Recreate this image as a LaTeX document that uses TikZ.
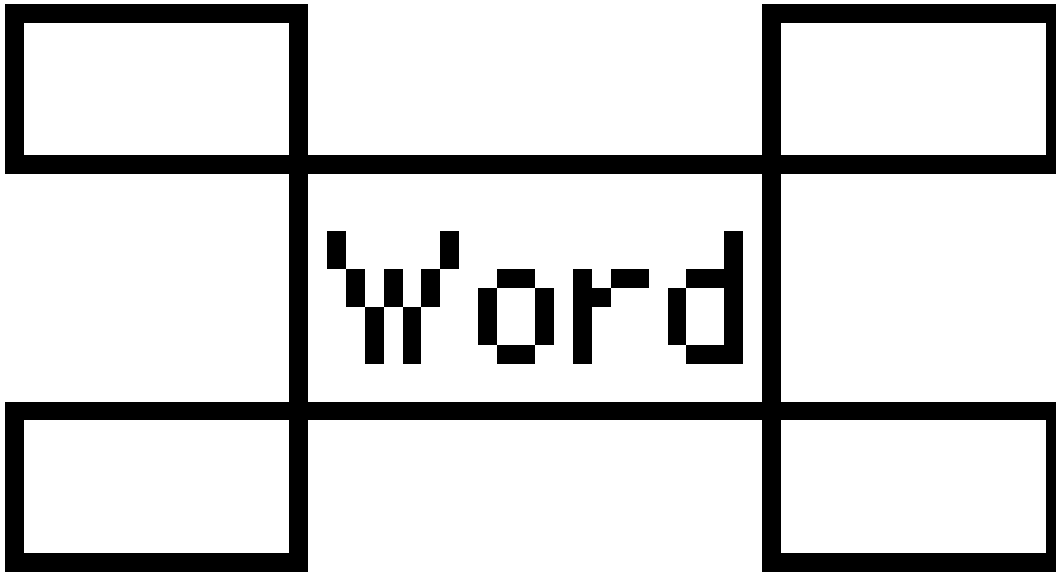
\documentclass[tikz,border=0pt]{standalone}
\begin{document}
\begin{tikzpicture}
\tikzset{
  cellbox/.style={draw=black, line width=9.465pt, inner sep=0pt, minimum width=15*9.465pt, minimum height=8*9.465pt, fill=none},
  centrebox/.style={draw=black, line width=9.465pt, inner sep=0pt, minimum width=25*9.465pt, minimum height=13*9.465pt, fill=none},
  pix/.style={fill=black}
}
\useasboundingbox (0,0) rectangle (528pt,-286.5pt);
\clip (0,0) rectangle (528pt,-286.5pt);
\begin{scope}[shift={(2.5pt,-2pt)}, x=9.465pt, y=-9.465pt]
  % corner boxes
  \node[cellbox] (tl) at (8,4.5) {};
  \node[cellbox] (tr) at (48,4.5) {};
  \node[cellbox] (bl) at (8,25.5) {};
  \node[cellbox] (br) at (48,25.5) {};
  % centre box
  \node[centrebox] (centre) at (28,15) {};
  % pixel letters: W
  \fill[pix] (17,12) rectangle (18,14);
  \fill[pix] (18,14) rectangle (19,16);
  \fill[pix] (19,16) rectangle (20,19);
  \fill[pix] (20,14) rectangle (21,16);
  \fill[pix] (21,16) rectangle (22,19);
  \fill[pix] (22,14) rectangle (23,16);
  \fill[pix] (23,12) rectangle (24,14);
  % o
  \fill[pix] (25,15) rectangle (26,18);
  \fill[pix] (26,14) rectangle (28,15);
  \fill[pix] (26,18) rectangle (28,19);
  \fill[pix] (28,15) rectangle (29,18);
  % r
  \fill[pix] (30,14) rectangle (31,19);
  \fill[pix] (31,15) rectangle (32,16);
  \fill[pix] (32,14) rectangle (34,15);
  % d
  \fill[pix] (35,15) rectangle (36,18);
  \fill[pix] (36,14) rectangle (38,15);
  \fill[pix] (36,18) rectangle (38,19);
  \fill[pix] (38,12) rectangle (39,19);
\end{scope}
\end{tikzpicture}
\end{document}
